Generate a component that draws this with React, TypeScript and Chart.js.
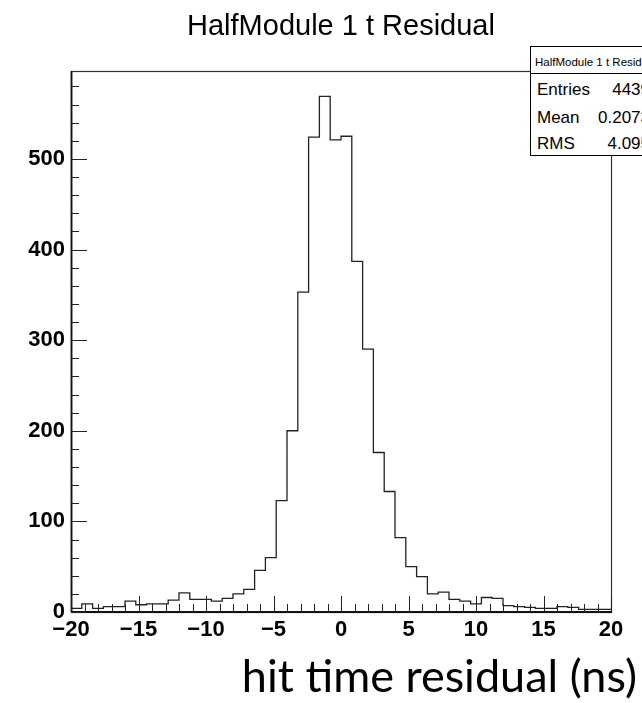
import React, { useEffect, useRef } from "react";
import { Chart, registerables } from "chart.js";

Chart.register(...registerables);

// ---- data ----
const TITLE = "HalfModule 1 t Residual";
const X_LABEL = "hit time residual (ns)";
const X_MIN = -20;
const X_MAX = 20;
const BIN_WIDTH = 0.8;
const COUNTS = [
  10, 4, 9, 4, 6, 6, 12, 8, 9, 9,
  13, 21, 14, 14, 12, 15, 20, 25, 46, 60,
  123, 200, 353, 524, 569, 521, 525, 387, 290, 176,
  133, 82, 50, 39, 20, 22, 14, 12, 9, 16,
  15, 7, 6, 5, 4, 4, 6, 5, 3, 3,
];
const Y_MAX = 597;
const X_TICKS = [-20, -15, -10, -5, 0, 5, 10, 15, 20];
const Y_TICKS = [0, 100, 200, 300, 400, 500];
const X_MAJOR = 5;
const X_MINOR = 1;
const Y_MAJOR = 100;
const Y_MINOR = 20;
const STATS_TITLE = "HalfModule 1 t Residual";
const STATS_LABELS = ["Entries", "Mean", "RMS"];
const STATS_VALUES = ["4439", "0.2073", "4.095"];

const SANS = "'Liberation Sans', Arial, Helvetica, sans-serif";

const frameTicks = {
  id: "frameTicks",
  afterDatasetsDraw(chart: any) {
    const { ctx, chartArea, scales } = chart;
    const { left, right, top, bottom } = chartArea;
    const x = scales.x;
    const y = scales.y;
    ctx.save();
    // frame
    ctx.strokeStyle = "#333";
    ctx.lineWidth = 1.2;
    ctx.strokeRect(left + 0.5, top + 0.5, right - left, bottom - top);
    // main axes
    ctx.strokeStyle = "#111";
    ctx.lineWidth = 1.8;
    ctx.beginPath();
    ctx.moveTo(left, bottom);
    ctx.lineTo(right + 1, bottom);
    ctx.moveTo(left + 0.5, top);
    ctx.lineTo(left + 0.5, bottom);
    ctx.stroke();
    // ticks
    ctx.strokeStyle = "#222";
    ctx.lineWidth = 1;
    ctx.beginPath();
    const nx = Math.round((X_MAX - X_MIN) / X_MINOR);
    for (let i = 0; i <= nx; i++) {
      const v = X_MIN + i * X_MINOR;
      const px = Math.round(x.getPixelForValue(v)) + 0.5;
      const isMajor = Math.abs(v / X_MAJOR - Math.round(v / X_MAJOR)) < 1e-6;
      const len = isMajor ? 16 : 8;
      ctx.moveTo(px, bottom);
      ctx.lineTo(px, bottom - len);
    }
    for (let v = 0; v <= Y_MAX; v += Y_MINOR) {
      const py = Math.round(y.getPixelForValue(v)) + 0.5;
      const len = v % Y_MAJOR === 0 ? 16 : 8;
      ctx.moveTo(left, py);
      ctx.lineTo(left + len, py);
    }
    ctx.stroke();
    ctx.restore();
  },
};

function topFor(baseline: number, fs: number, ascent: number, descent: number) {
  const half = (fs - (ascent + descent) * fs) / 2;
  return baseline - half - ascent * fs;
}

export default function App() {
  const ref = useRef<HTMLCanvasElement | null>(null);

  useEffect(() => {
    if (!ref.current) return;
    const points = COUNTS.map((c, i) => ({ x: X_MIN + i * BIN_WIDTH, y: c }));
    points.push({ x: X_MAX, y: COUNTS[COUNTS.length - 1] });
    const tickFont = { family: SANS, size: 22, weight: "bold" as const };
    const chart = new Chart(ref.current, {
      type: "line",
      data: {
        datasets: [
          {
            data: points,
            stepped: "after",
            borderColor: "#222",
            borderWidth: 1.3,
            pointRadius: 0,
            fill: false,
          },
        ],
      },
      options: {
        animation: false,
        responsive: false,
        maintainAspectRatio: false,
        layout: { padding: { left: 0, top: 71, right: 31, bottom: 0 } },
        plugins: { legend: { display: false }, tooltip: { enabled: false }, title: { display: false } },
        scales: {
          x: {
            type: "linear",
            min: X_MIN,
            max: X_MAX,
            grid: { display: false, drawTicks: false },
            border: { display: false },
            ticks: {
              padding: 5,
              maxRotation: 0,
              minRotation: 0,
              autoSkip: false,
              color: "#000",
              font: tickFont,
              callback: (v: any) => String(v).replace("-", "\u2212"),
            },
            afterBuildTicks: (s: any) => {
              s.ticks = X_TICKS.map((v) => ({ value: v }));
            },
            afterFit: (s: any) => {
              s.height = 91;
            },
          },
          y: {
            type: "linear",
            min: 0,
            max: Y_MAX,
            grid: { display: false, drawTicks: false },
            border: { display: false },
            ticks: {
              padding: 6,
              autoSkip: false,
              color: "#000",
              font: tickFont,
              callback: (v: any) => String(v),
            },
            afterBuildTicks: (s: any) => {
              s.ticks = Y_TICKS.map((v) => ({ value: v }));
            },
            afterFit: (s: any) => {
              s.width = 71;
            },
          },
        },
      },
      plugins: [frameTicks],
    });
    return () => chart.destroy();
  }, []);

  const titleFs = 29;
  const xlFs = 45;
  const stFs = 17;
  const hdFs = 11.5;
  const rowBase = [95, 123, 149];

  return (
    <div
      style={{
        position: "fixed",
        left: 0,
        top: 0,
        width: 642,
        height: 703,
        overflow: "hidden",
        background: "#fff",
      }}
    >
      <canvas ref={ref} width={642} height={703} style={{ position: "absolute", left: 0, top: 0 }} />
      <div
        style={{
          position: "absolute",
          left: 0,
          width: 682,
          top: topFor(36, titleFs, 0.905, 0.212),
          textAlign: "center",
          fontFamily: SANS,
          fontSize: titleFs,
          lineHeight: `${titleFs}px`,
          whiteSpace: "nowrap",
          color: "#000",
        }}
      >
        {TITLE}
      </div>
      <div
        style={{
          position: "absolute",
          right: 5,
          top: topFor(693, xlFs, 0.987, 0.213),
          textAlign: "right",
          fontFamily: "Lato, 'Open Sans', sans-serif",
          fontSize: xlFs,
          lineHeight: `${xlFs}px`,
          whiteSpace: "nowrap",
          color: "#000",
        }}
      >
        {X_LABEL}
      </div>
      <div
        style={{
          position: "absolute",
          left: 530,
          top: 46,
          width: 126,
          height: 110,
          border: "1px solid #000",
          boxSizing: "border-box",
          background: "#fff",
        }}
      />
      <div style={{ position: "absolute", left: 530, top: 73, width: 126, height: 1, background: "#000" }} />
      <div
        style={{
          position: "absolute",
          left: 535,
          top: topFor(66.7, hdFs, 0.905, 0.212),
          fontFamily: SANS,
          fontSize: hdFs,
          lineHeight: `${hdFs}px`,
          whiteSpace: "nowrap",
          color: "#000",
        }}
      >
        {STATS_TITLE}
      </div>
      {STATS_LABELS.map((lab, i) => (
        <React.Fragment key={lab}>
          <div
            style={{
              position: "absolute",
              left: 537,
              top: topFor(rowBase[i], stFs, 0.905, 0.212),
              fontFamily: SANS,
              fontSize: stFs,
              lineHeight: `${stFs}px`,
              whiteSpace: "nowrap",
              color: "#000",
            }}
          >
            {lab}
          </div>
          <div
            style={{
              position: "absolute",
              left: 560,
              width: 90,
              top: topFor(rowBase[i], stFs, 0.905, 0.212),
              textAlign: "right",
              fontFamily: SANS,
              fontSize: stFs,
              lineHeight: `${stFs}px`,
              whiteSpace: "nowrap",
              color: "#000",
            }}
          >
            {STATS_VALUES[i]}
          </div>
        </React.Fragment>
      ))}
    </div>
  );
}
